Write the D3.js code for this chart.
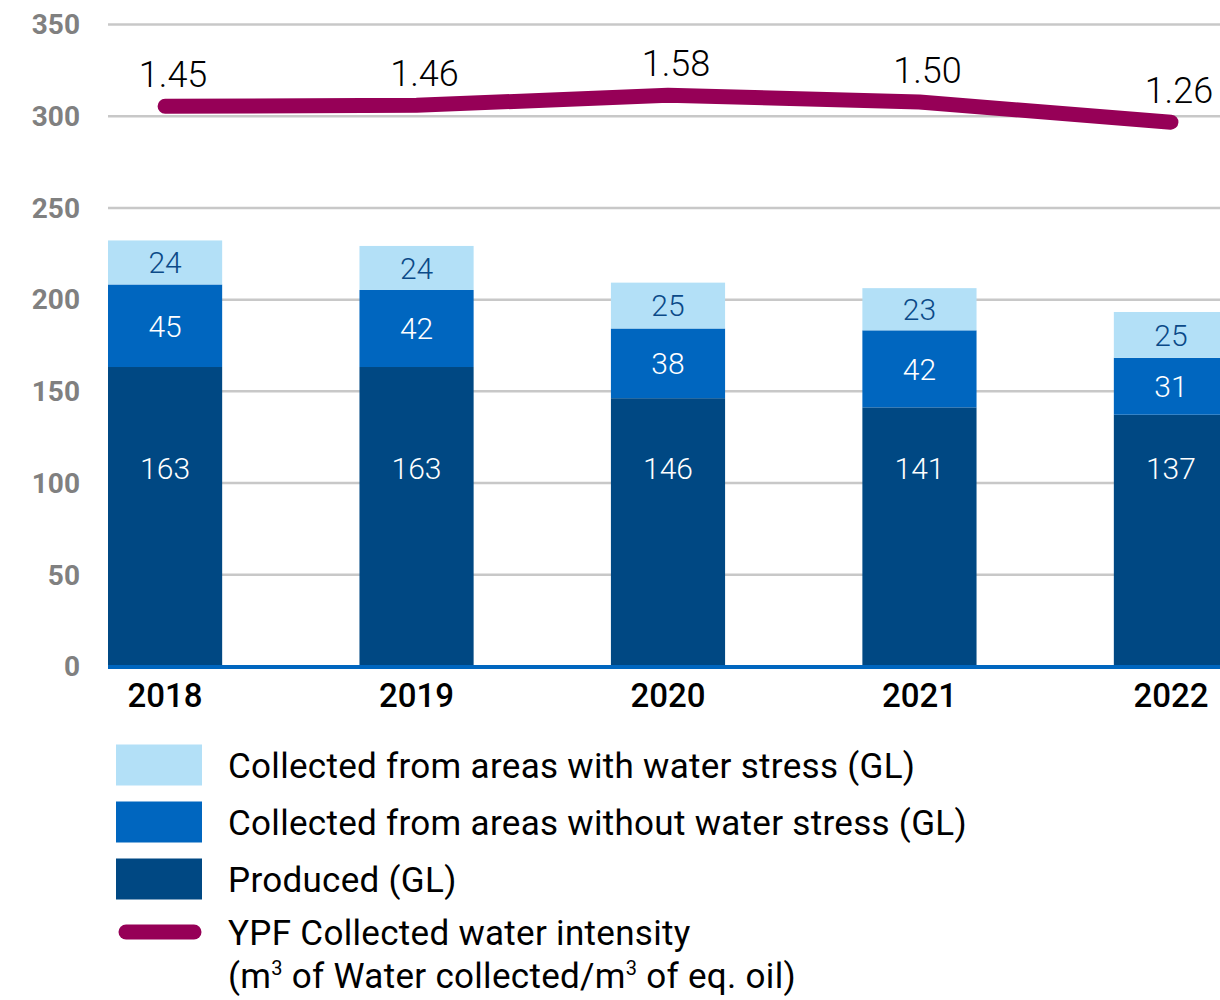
<!DOCTYPE html>
<html>
<head>
<meta charset="utf-8">
<script src="https://cdn.jsdelivr.net/npm/d3@7"></script>
<style>
  html, body { margin: 0; padding: 0; background: #fff; }
  svg { display: block; font-family: Roboto, "Noto Sans", sans-serif; }
</style>
</head>
<body>
<svg id="chart" width="1220" height="1000"></svg>
<script>
// Water collected by YPF (GL) and collected-water intensity
const years = ["2018", "2019", "2020", "2021", "2022"];
const produced = [163, 163, 146, 141, 137];
const withoutStress = [45, 42, 38, 42, 31];
const withStress = [24, 24, 25, 23, 25];
const intensity = [1.45, 1.46, 1.58, 1.50, 1.26];
const yTicks = [0, 50, 100, 150, 200, 250, 300, 350];

const seriesNames = [
  "Collected from areas with water stress (GL)",
  "Collected from areas without water stress (GL)",
  "Produced (GL)"
];
const colors = { stress: "#b3e0f7", noStress: "#0066bf", produced: "#004883", line: "#960057" };

const svg = d3.select("#chart");
const plotLeft = 108, plotRight = 1228;

const x = d3.scaleBand().domain(years).range([plotLeft, plotRight])
  .paddingInner(0.546).paddingOuter(0);
const y = d3.scaleLinear().domain([0, 350]).range([666, 24]);
const y2 = d3.scaleLinear().domain([1.0, 2.0]).range([144, 60]);

// gridlines and y tick labels
const yAxis = d3.axisLeft(y).tickValues(yTicks).tickSize(0).tickPadding(0);
const gy = svg.append("g").attr("transform", `translate(${plotLeft},0)`).call(yAxis);
gy.select(".domain").remove();
gy.selectAll(".tick line")
  .attr("x2", 1220 - plotLeft)
  .attr("stroke", "#c8c8c8").attr("stroke-width", 2.5);
gy.selectAll(".tick text")
  .attr("x", -28).attr("dy", "0.35em")
  .attr("fill", "#808080").attr("font-size", 28).attr("font-weight", 700)
  .attr("font-family", "Roboto, sans-serif");

// stacked bars
const rows = years.map((yr, i) => ({ year: yr, produced: produced[i], noStress: withoutStress[i], stress: withStress[i] }));
const stack = d3.stack().keys(["produced", "noStress", "stress"])(rows);

const layers = svg.append("g").selectAll("g").data(stack).join("g")
  .attr("fill", d => colors[d.key]);
layers.selectAll("rect").data(d => d).join("rect")
  .attr("x", d => x(d.data.year))
  .attr("width", x.bandwidth())
  .attr("y", d => y(d[1]))
  .attr("height", d => y(d[0]) - y(d[1]));

// segment value labels
const labelColor = { produced: "#ffffff", noStress: "#ffffff", stress: "#0b4a88" };
stack.forEach(layer => {
  svg.append("g").selectAll("text").data(layer).join("text")
    .attr("x", d => x(d.data.year) + x.bandwidth() / 2)
    .attr("y", d => layer.key === "produced" ? 468 : (y(d[0]) + y(d[1])) / 2)
    .attr("dy", "0.36em")
    .attr("text-anchor", "middle")
    .attr("font-size", 30).attr("font-weight", 300)
    .attr("fill", labelColor[layer.key])
    .text(d => d.data[layer.key]);
});

// baseline
svg.append("line")
  .attr("x1", plotLeft).attr("x2", 1220)
  .attr("y1", y(0) + 1).attr("y2", y(0) + 1)
  .attr("stroke", "#0066bf").attr("stroke-width", 4);

// x axis labels
const xAxis = d3.axisBottom(x).tickSize(0).tickPadding(0);
const gx = svg.append("g").attr("transform", `translate(0,${y(0)})`).call(xAxis);
gx.select(".domain").remove();
gx.selectAll(".tick text")
  .attr("y", 29).attr("dy", "0.36em")
  .attr("fill", "#000").attr("font-size", 33).attr("font-weight", 500)
  .attr("font-family", "Roboto, sans-serif");

// intensity line
const cx = yr => x(yr) + x.bandwidth() / 2;
const line = d3.line().x((d, i) => cx(years[i])).y(d => y2(d));
svg.append("path")
  .datum(intensity)
  .attr("d", line)
  .attr("fill", "none")
  .attr("stroke", colors.line).attr("stroke-width", 15)
  .attr("stroke-linecap", "round").attr("stroke-linejoin", "round");

svg.append("g").selectAll("text").data(intensity).join("text")
  .attr("x", (d, i) => cx(years[i]) + 8)
  .attr("y", d => y2(d) - 19)
  .attr("text-anchor", "middle")
  .attr("font-size", 36).attr("font-weight", 300)
  .attr("fill", "#000")
  .text(d => d.toFixed(2));

// legend
const legend = svg.append("g");
const swatchColors = [colors.stress, colors.noStress, colors.produced];
const legendY = [765, 822, 879];
const legendFont = { size: 35, spacing: 0.3 };
seriesNames.forEach((name, i) => {
  legend.append("rect")
    .attr("x", 116).attr("y", legendY[i] - 20.5)
    .attr("width", 86).attr("height", 41)
    .attr("fill", swatchColors[i]);
  legend.append("text")
    .attr("x", 228).attr("y", legendY[i]).attr("dy", "0.36em")
    .attr("font-size", legendFont.size).attr("letter-spacing", legendFont.spacing)
    .attr("fill", "#000")
    .text(name);
});
legend.append("line")
  .attr("x1", 126).attr("x2", 194).attr("y1", 932).attr("y2", 932)
  .attr("stroke", colors.line).attr("stroke-width", 15).attr("stroke-linecap", "round");
legend.append("text")
  .attr("x", 228).attr("y", 932).attr("dy", "0.36em")
  .attr("font-size", legendFont.size).attr("letter-spacing", legendFont.spacing)
  .attr("fill", "#000")
  .text("YPF Collected water intensity");
// second legend line with superscript cubes; shifts are in px so the baseline returns exactly
const t2 = legend.append("text")
  .attr("x", 228).attr("y", 988)
  .attr("font-size", legendFont.size).attr("letter-spacing", legendFont.spacing)
  .attr("fill", "#000");
const parts = [
  { t: "(m" }, { t: "3", sup: true }, { t: " of Water collected/m" }, { t: "3", sup: true }, { t: " of eq. oil)" }
];
let shift = 0;
parts.forEach(p => {
  const target = p.sup ? -13 : 0;
  const ts = t2.append("tspan").attr("dy", target - shift).text(p.t);
  if (p.sup) ts.attr("font-size", 20);
  shift = target;
});
</script>
</body>
</html>
